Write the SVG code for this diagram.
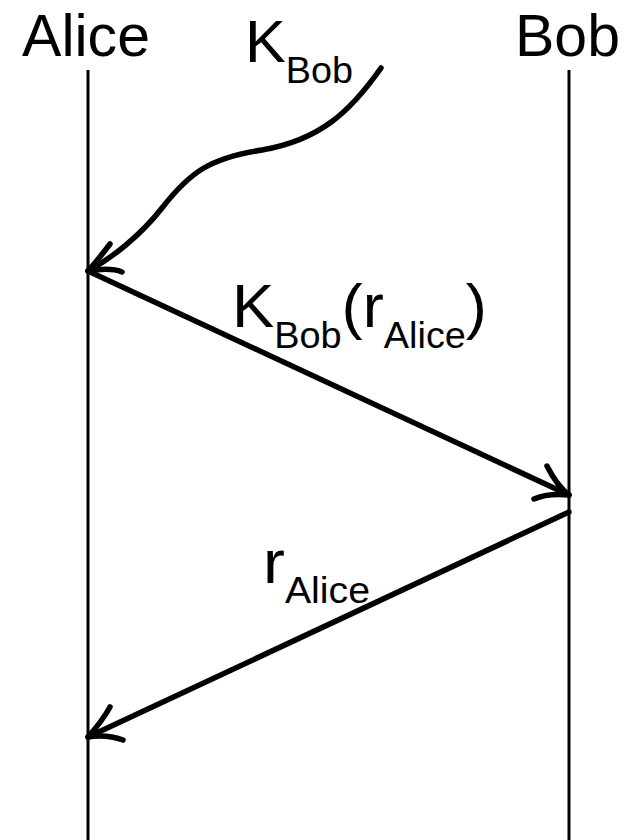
<svg xmlns="http://www.w3.org/2000/svg" width="632" height="840" viewBox="0 0 632 840">
<style>
.t{font-family:"Liberation Sans",Arial,sans-serif;fill:#000}
.big{font-size:62px}
.head{font-size:60px}
.sub{font-size:37px}
.life{stroke:#000;stroke-width:3;fill:none}
.msg{stroke:#000;stroke-width:5.5;fill:none;stroke-linecap:round;stroke-linejoin:round}
</style>
<rect width="632" height="840" fill="#fff"/>
<g id="alice">
<text class="t head" x="22" y="56" textLength="128" lengthAdjust="spacingAndGlyphs">Alice</text>
<line class="life" x1="88" y1="70" x2="88" y2="840"/>
</g>
<g id="bob">
<text class="t head" x="515" y="56" textLength="105" lengthAdjust="spacingAndGlyphs">Bob</text>
<line class="life" x1="569" y1="70" x2="569" y2="840"/>
</g>
<g id="kbob-label">
<text class="t head" x="245" y="62" textLength="108" lengthAdjust="spacingAndGlyphs">K<tspan class="sub" dy="21">Bob</tspan></text>
</g>
<g id="connectors">
<path class="msg" d="M381,68 C350,112 320,140 262,150 C210,158 190,172 162,208 C140,236 112,258 88,271"/>
<path class="msg" d="M110,244 C104,252 96,262 88,271 C100,269 112,268 122,272"/>
<path class="msg" d="M88,271 L569,495"/>
<path class="msg" d="M547,466 C552,476 560,488 569,495 C558,494 545,494 534,499"/>
<path class="msg" d="M569,512 L88,737"/>
<path class="msg" d="M110,707 C104,718 96,728 88,737 C100,735 112,736 123,740"/>
<text class="t big" x="232" y="327" textLength="255" lengthAdjust="spacingAndGlyphs">K<tspan class="sub" dy="21">Bob</tspan><tspan dy="-21">(r</tspan><tspan class="sub" dy="21">Alice</tspan><tspan dy="-21">)</tspan></text>
<text class="t big" x="263" y="583" textLength="107" lengthAdjust="spacingAndGlyphs">r<tspan class="sub" dy="20">Alice</tspan></text>
</g>
</svg>
